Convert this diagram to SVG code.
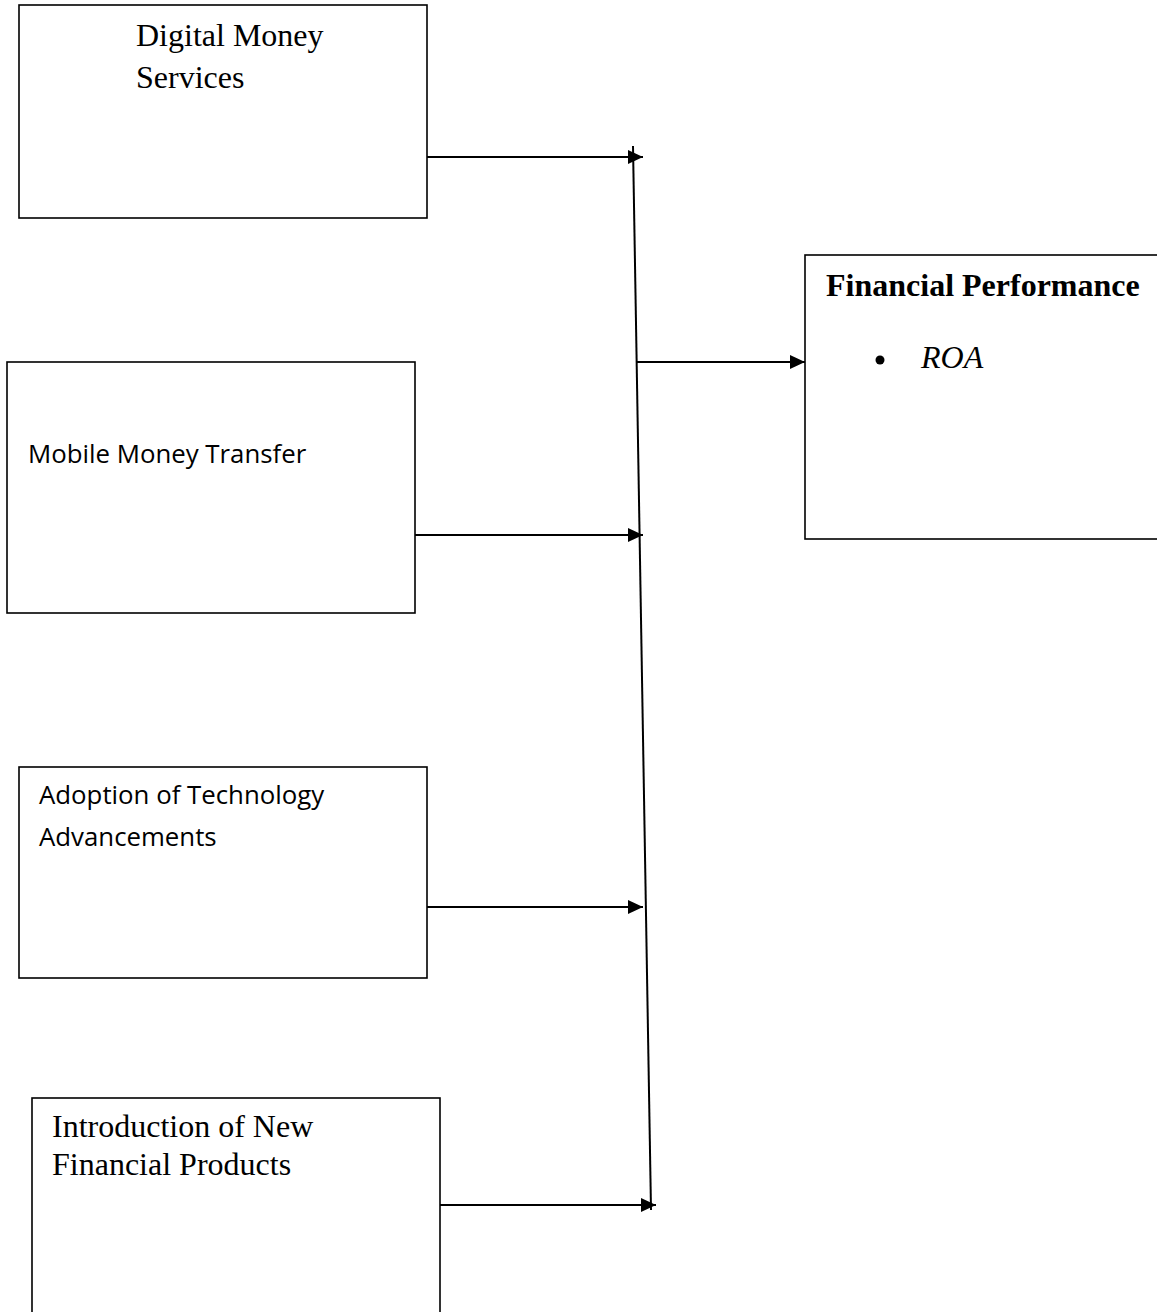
<svg xmlns="http://www.w3.org/2000/svg" width="1157" height="1312" viewBox="0 0 1157 1312">
<style>
.box{fill:#fff;stroke:#000;stroke-width:1.6}
.serif{font-family:"Liberation Serif","Times New Roman",serif;font-size:32px;fill:#000}
.sans{font-family:"Open Sans","Liberation Sans",sans-serif;font-size:25.8px;fill:#000}
.con{stroke:#000;stroke-width:2;fill:none}
</style>
<defs>
<marker id="ah" markerWidth="16" markerHeight="14" refX="15" refY="7" orient="auto" markerUnits="userSpaceOnUse">
<path d="M0,0 L15,7 L0,14 Z" fill="#000"/>
</marker>
</defs>
<rect width="1157" height="1312" fill="#fff"/>
<g id="node-digital">
<rect class="box" x="19" y="5" width="408" height="213"/>
<text class="serif" x="136" y="46">Digital Money</text>
<text class="serif" x="136" y="88">Services</text>
</g>
<g id="node-mobile">
<rect class="box" x="7" y="362" width="408" height="251"/>
<text class="sans" x="28" y="463">Mobile Money Transfer</text>
</g>
<g id="node-adoption">
<rect class="box" x="19" y="767" width="408" height="211"/>
<text class="sans" x="39" y="804">Adoption of Technology</text>
<text class="sans" x="39" y="846">Advancements</text>
</g>
<g id="node-introduction">
<rect class="box" x="32" y="1098" width="408" height="222"/>
<text class="serif" x="52" y="1137">Introduction of New</text>
<text class="serif" x="52" y="1175">Financial Products</text>
</g>
<g id="node-performance">
<rect class="box" x="805" y="255" width="360" height="284"/>
<text class="serif" x="826" y="296" font-weight="bold">Financial Performance</text>
<circle cx="880" cy="360" r="4.5" fill="#000"/>
<text class="serif" x="921" y="368" font-style="italic">ROA</text>
</g>
<g id="connectors">
<line class="con" x1="633" y1="146" x2="651" y2="1210"/>
<line class="con" x1="427" y1="157" x2="643" y2="157" marker-end="url(#ah)"/>
<line class="con" x1="415" y1="535" x2="643" y2="535" marker-end="url(#ah)"/>
<line class="con" x1="427" y1="907" x2="643" y2="907" marker-end="url(#ah)"/>
<line class="con" x1="440" y1="1205" x2="656" y2="1205" marker-end="url(#ah)"/>
<line class="con" x1="637" y1="362" x2="805" y2="362" marker-end="url(#ah)"/>
</g>
</svg>
